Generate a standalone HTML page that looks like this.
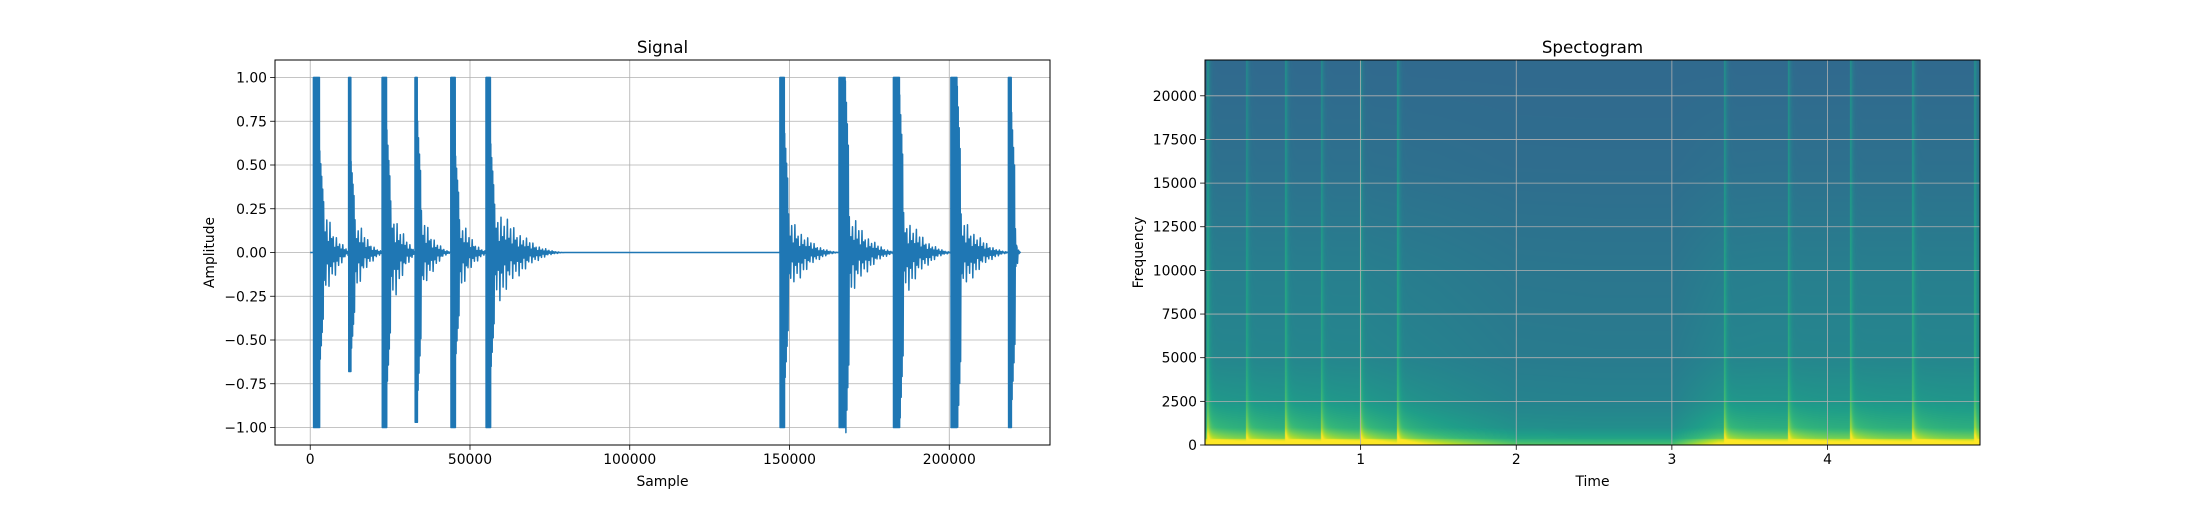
<!DOCTYPE html>
<html><head><meta charset="utf-8"><style>
body{margin:0;background:#fff;}
svg text{font-family:"DejaVu Sans","Liberation Sans",sans-serif;fill:#000;}
</style></head><body>
<svg id="fig" width="2200" height="500" viewBox="0 0 2200 500" xmlns="http://www.w3.org/2000/svg">
<rect width="2200" height="500" fill="#fff"/>
<g id="sig"></g>
<foreignObject x="1205" y="60" width="775" height="385"><canvas xmlns="http://www.w3.org/1999/xhtml" id="spec" width="775" height="385" style="display:block"></canvas></foreignObject>
<g id="spg"></g>
</svg>
<script>
// Signal data
const burstOnsets=[1000,12000,22500,32800,44000,55000,147000,165500,182500,200500,218500];
const burstCoreWidth=[2000,800,1500,800,1500,1500,1500,2000,2000,2000,1000];
const burstMax=[1,1,1,1,1,1,1,1,1,1,1];
const burstMin=[-1,-0.68,-1,-0.97,-1,-1,-1,-1,-1,-1,-1];
const burstMidAmp=[0.58,0.52,0.7,0.75,0.55,0.62,0.68,0.98,0.9,0.95,0.8];
const burstTailAmp=[0.27,0.2,0.29,0.22,0.2,0.27,0.2,0.22,0.22,0.2,0.14];
const burstTailLen=[10000,10000,10000,10000,10000,22000,16000,16000,16000,16000,1500];
const signalLength=220500;
const sigXTicks=[0,50000,100000,150000,200000];
const sigYTicks=[-1,-0.75,-0.5,-0.25,0,0.25,0.5,0.75,1];
const spikeJitter=[1,0.45,0.8,0.3,0.95,0.5,0.65,0.25,0.85,0.4,0.7,0.35];
// Spectrogram data
const specOnsets=[0.02,0.27,0.52,0.75,1.0,1.24,3.34,3.75,4.15,4.55,4.95];
const specOnsetStrength=[1,0.8,1,0.9,1,1,1,1,1,1,0.9];
const activityTimes=[0,0.5,1.0,1.5,2.0,2.5,3.0,3.3,3.6,4.0,4.5,5.0];
const activityLevel=[1,1,1,0.7,0.3,0.25,0.25,0.9,1,1,1,1];
const bandFreqs=[0,300,1000,2500,5000,10000,16000,22050];
const bandQuiet=[0.6,0.52,0.45,0.42,0.4,0.38,0.35,0.34];
const bandActive=[0.97,0.8,0.62,0.52,0.46,0.43,0.37,0.34];
const specXTicks=[1,2,3,4];
const specYTicks=[0,2500,5000,7500,10000,12500,15000,17500,20000];

const NS="http://www.w3.org/2000/svg";
function mk(p,t,a){const e=document.createElementNS(NS,t);for(const k in a)e.setAttribute(k,a[k]);p.appendChild(e);return e;}
function fmtMinus(s){return s.replace('-','\u2212');}

const A1={l:275,r:1050,t:60,b:445};
const sxMin=-0.05*signalLength,sxMax=1.05*signalLength;
const sx=v=>A1.l+(v-sxMin)/(sxMax-sxMin)*(A1.r-A1.l);
const sy=v=>A1.b-(v+1.1)/2.2*(A1.b-A1.t);
const g1=document.getElementById('sig');
const grid1=mk(g1,'g',{});
sigXTicks.forEach(v=>{mk(grid1,'line',{x1:sx(v),x2:sx(v),y1:A1.t,y2:A1.b,stroke:'#b0b0b0','stroke-width':0.8});});
sigYTicks.forEach(v=>{mk(grid1,'line',{x1:A1.l,x2:A1.r,y1:sy(v),y2:sy(v),stroke:'#b0b0b0','stroke-width':0.8});});
let pts=[[0,0]];let jc=0;
burstOnsets.forEach((o,i)=>{
  pts.push([o,0]);
  const cw=burstCoreWidth[i],steps=Math.max(6,Math.round(cw/120));
  for(let k=0;k<steps;k++){const s=o+k*cw/steps;pts.push([s,burstMax[i]]);pts.push([s+cw/steps/2,burstMin[i]]);}
  const mw=1200,ms=4;
  for(let k=0;k<ms;k++){const s=o+cw+k*mw/ms;const a=burstMidAmp[i]*(1-k/ms*0.5);pts.push([s,a]);pts.push([s+mw/ms/2,-a*1.05]);}
  const st=o+cw+mw,tl=burstTailLen[i],ts=Math.max(3,Math.round(tl/500));
  for(let k=0;k<ts;k++){const f=k/ts,s=st+f*tl;const base=burstTailAmp[i]*Math.pow(1-f,2.2)+0.02*(1-f);
    const a=base*spikeJitter[jc%spikeJitter.length],b=base*spikeJitter[(jc+5)%spikeJitter.length];jc++;
    pts.push([s,a]);pts.push([s+tl/ts/3,-b*1.1]);pts.push([s+tl/ts*2/3,a*0.3]);}
  pts.push([st+tl,0]);
});
pts.push([signalLength,0]);
const wf=mk(g1,'path',{d:'M'+pts.map(p=>sx(p[0]).toFixed(1)+','+sy(p[1]).toFixed(1)).join('L'),fill:'none',stroke:'#1f77b4','stroke-width':1.5,'stroke-linejoin':'round'});

const fr1=mk(g1,'rect',{x:A1.l,y:A1.t,width:A1.r-A1.l,height:A1.b-A1.t,fill:'none',stroke:'#000','stroke-width':1});

sigXTicks.forEach(v=>{mk(g1,'line',{x1:sx(v),x2:sx(v),y1:A1.b,y2:A1.b+4.9,stroke:'#000','stroke-width':0.8});
  const t=mk(g1,'text',{x:sx(v),y:A1.b+19,'text-anchor':'middle','font-size':13.9});t.textContent=String(v);
  });
sigYTicks.forEach(v=>{mk(g1,'line',{x1:A1.l-4.9,x2:A1.l,y1:sy(v),y2:sy(v),stroke:'#000','stroke-width':0.8});
  const t=mk(g1,'text',{x:A1.l-8,y:sy(v)+5,'text-anchor':'end','font-size':13.9});t.textContent=fmtMinus(v.toFixed(2));
  });
let t=mk(g1,'text',{x:(A1.l+A1.r)/2,y:53,'text-anchor':'middle','font-size':16.7});t.textContent='Signal';

t=mk(g1,'text',{x:(A1.l+A1.r)/2,y:486,'text-anchor':'middle','font-size':13.9});t.textContent='Sample';

t=mk(g1,'text',{x:214,y:(A1.t+A1.b)/2,'text-anchor':'middle','font-size':13.9,transform:'rotate(-90 214 '+(A1.t+A1.b)/2+')'});t.textContent='Amplitude';


const A2={l:1205,r:1980,t:60,b:445};
const tMin=0,tMax=4.98,fMax=22050;
const tx=v=>A2.l+(v-tMin)/(tMax-tMin)*(A2.r-A2.l);
const fy=v=>A2.b-v/fMax*(A2.b-A2.t);
const vir=[[68,1,84],[72,40,120],[62,74,137],[49,104,142],[38,130,142],[31,158,137],[53,183,121],[110,206,88],[181,222,43],[253,231,37]];
function cmap(v){v=Math.max(0,Math.min(1,v))*(vir.length-1);const i=Math.min(vir.length-2,Math.floor(v)),f=v-i;return vir[i].map((c,k)=>Math.round(c+(vir[i+1][k]-c)*f));}
function interp(xs,ys,x){for(let i=0;i<xs.length-1;i++){if(x<=xs[i+1]){const f=(x-xs[i])/(xs[i+1]-xs[i]);return ys[i]+(ys[i+1]-ys[i])*f;}}return ys[ys.length-1];}
const cv=document.getElementById('spec'),ctx=cv.getContext('2d');
const W=775,H=385,img=ctx.createImageData(W,H);
for(let x=0;x<W;x++){const tt=tMin+(x+0.5)/W*(tMax-tMin);const act=interp(activityTimes,activityLevel,tt);
  for(let y=0;y<H;y++){const f=(H-y-0.5)/H*fMax;
    let v=interp(bandFreqs,bandQuiet,f)*(1-act)+interp(bandFreqs,bandActive,f)*act;
    specOnsets.forEach((o,i)=>{const d=tt-o;if(d>=-0.006){const dd=Math.max(0,d);
      v+=specOnsetStrength[i]*(0.17*Math.exp(-dd/0.012)+0.2*Math.exp(-f/1200)*Math.exp(-dd/0.12));}});
    if(f<330)v+=0.12*act;
    const c=cmap(v),p=(y*W+x)*4;img.data[p]=c[0];img.data[p+1]=c[1];img.data[p+2]=c[2];img.data[p+3]=255;}}
ctx.putImageData(img,0,0);
const g2=document.getElementById('spg');
specXTicks.forEach(v=>{mk(g2,'line',{x1:tx(v),x2:tx(v),y1:A2.t,y2:A2.b,stroke:'#b0b0b0','stroke-width':0.8});});
specYTicks.forEach(v=>{mk(g2,'line',{x1:A2.l,x2:A2.r,y1:fy(v),y2:fy(v),stroke:'#b0b0b0','stroke-width':0.8});});
const fr2=mk(g2,'rect',{x:A2.l,y:A2.t,width:A2.r-A2.l,height:A2.b-A2.t,fill:'none',stroke:'#000','stroke-width':1});

specXTicks.forEach(v=>{mk(g2,'line',{x1:tx(v),x2:tx(v),y1:A2.b,y2:A2.b+4.9,stroke:'#000','stroke-width':0.8});
  const t=mk(g2,'text',{x:tx(v),y:A2.b+19,'text-anchor':'middle','font-size':13.9});t.textContent=String(v);
  });
specYTicks.forEach(v=>{mk(g2,'line',{x1:A2.l-4.9,x2:A2.l,y1:fy(v),y2:fy(v),stroke:'#000','stroke-width':0.8});
  const t=mk(g2,'text',{x:A2.l-8,y:fy(v)+5,'text-anchor':'end','font-size':13.9});t.textContent=String(v);
  });
t=mk(g2,'text',{x:(A2.l+A2.r)/2,y:53,'text-anchor':'middle','font-size':16.7});t.textContent='Spectogram';

t=mk(g2,'text',{x:(A2.l+A2.r)/2,y:486,'text-anchor':'middle','font-size':13.9});t.textContent='Time';

t=mk(g2,'text',{x:1143,y:(A2.t+A2.b)/2,'text-anchor':'middle','font-size':13.9,transform:'rotate(-90 1143 '+(A2.t+A2.b)/2+')'});t.textContent='Frequency';

</script>
</body></html>
